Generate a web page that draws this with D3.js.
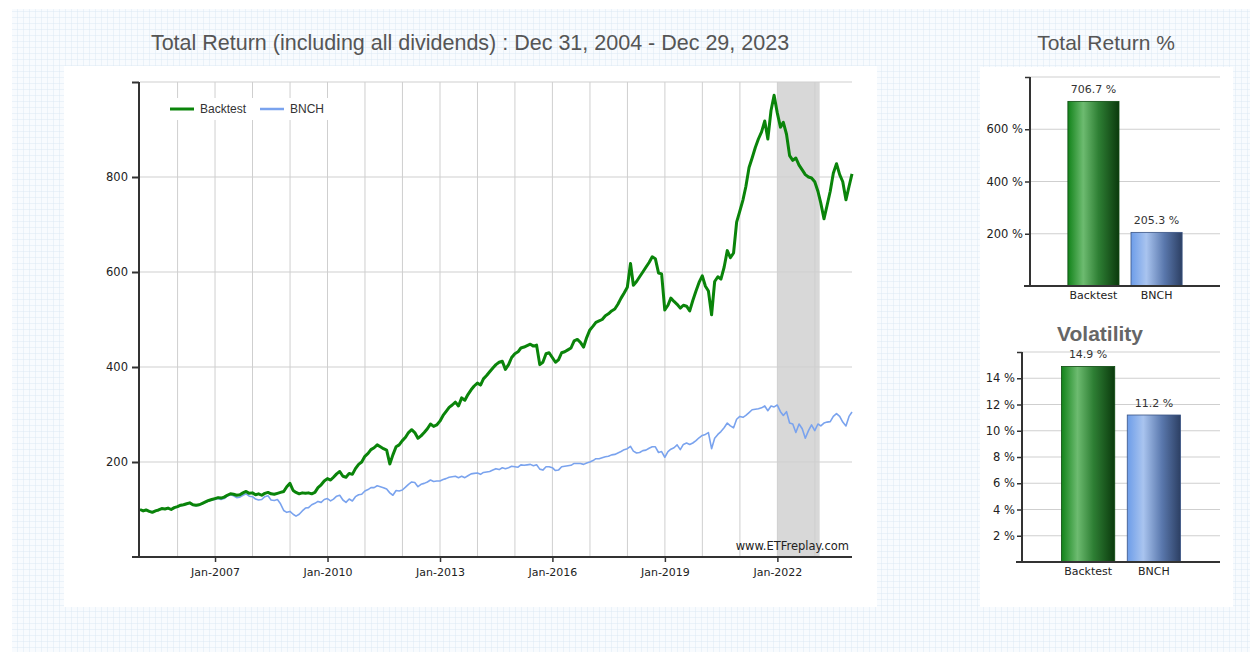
<!DOCTYPE html>
<html>
<head>
<meta charset="utf-8">
<script src="https://cdn.jsdelivr.net/npm/d3@7"></script>
<style>
  html, body { margin: 0; padding: 0; background: #fff; }
  svg { display: block; }
</style>
</head>
<body>
<div id="chart"></div>
<script>
// Total return chart, Backtest vs BNCH (month-end values, Dec 2004 = 100)
const titleMain = 'Total Return (including all dividends) : Dec 31, 2004 - Dec 29, 2023';
const seriesNames = ['Backtest', 'BNCH'];

const backtest = [100,
  97, 99, 96, 94, 97, 99, 102, 101, 103, 100, 104, 106,          // 2005
  109, 110, 112, 114, 110, 109, 110, 113, 116, 119, 121, 123,    // 2006
  125, 124, 126, 130, 133, 132, 130, 131, 135, 138, 134, 135,    // 2007
  131, 133, 130, 134, 136, 133, 132, 134, 136, 138, 148, 155,    // 2008
  140, 136, 133, 135, 134, 135, 133, 136, 146, 152, 160, 165,    // 2009
  162, 168, 175, 180, 170, 168, 176, 174, 186, 195, 200, 212,    // 2010
  218, 226, 230, 236, 232, 228, 225, 196, 215, 232, 236, 245,    // 2011
  252, 262, 268, 262, 250, 255, 262, 270, 280, 275, 278, 286,    // 2012
  298, 306, 315, 320, 326, 318, 335, 330, 342, 352, 360, 366,    // 2013
  362, 375, 382, 390, 398, 405, 410, 412, 395, 405, 420, 428,    // 2014
  432, 440, 442, 445, 448, 444, 446, 405, 410, 428, 430, 420,    // 2015
  410, 415, 430, 432, 436, 440, 455, 458, 452, 442, 462, 478,    // 2016
  486, 494, 497, 500, 508, 512, 518, 522, 532, 545, 556, 568,    // 2017
  618, 572, 580, 590, 600, 610, 620, 632, 628, 598, 596, 520,    // 2018
  530, 545, 538, 532, 524, 530, 528, 518, 540, 560, 578, 592,    // 2019
  570, 560, 510, 580, 590, 585, 610, 645, 630, 640, 705, 728,    // 2020
  752, 780, 820, 840, 862, 880, 895, 918, 880, 940, 972, 935,    // 2021
  905, 915, 890, 845, 835, 840, 825, 815, 805, 800, 798, 790,    // 2022
  770, 745, 712, 740, 770, 808, 828, 805, 790, 752, 780, 806.7   // 2023
];

const bnch = [100,
  97, 99, 97, 95, 98, 99, 102, 101, 102, 100, 104, 105,          // 2005
  108, 109, 111, 113, 109, 108, 109, 112, 115, 118, 120, 121,    // 2006
  123, 121, 123, 128, 131, 129, 125, 126, 130, 133, 128, 127,    // 2007
  122, 120, 121, 127, 129, 120, 119, 121, 112, 98, 94, 96,       // 2008
  90, 86, 90, 97, 103, 104, 110, 113, 117, 115, 121, 123,        // 2009
  118, 122, 128, 130, 120, 115, 122, 118, 127, 131, 132, 139,    // 2010
  142, 146, 146, 150, 148, 146, 143, 135, 130, 140, 139, 141,    // 2011
  147, 153, 158, 157, 148, 153, 155, 158, 162, 159, 160, 160,    // 2012
  163, 165, 168, 169, 170, 167, 170, 167, 171, 175, 176, 177,    // 2013
  174, 178, 179, 180, 183, 186, 184, 188, 186, 188, 191, 190,    // 2014
  189, 194, 193, 194, 195, 192, 194, 185, 183, 190, 190, 188,    // 2015
  182, 183, 190, 191, 192, 193, 197, 197, 197, 195, 198, 200,    // 2016
  203, 207, 207, 209, 211, 212, 215, 216, 219, 222, 226, 228,    // 2017
  233, 223, 219, 220, 224, 225, 229, 232, 232, 220, 222, 210,    // 2018
  222, 227, 230, 236, 226, 237, 240, 237, 240, 245, 251, 256,    // 2019
  258, 262, 228, 250, 258, 264, 272, 282, 276, 272, 290, 296,    // 2020
  294, 298, 304, 310, 311, 312, 314, 318, 308, 318, 316, 320,    // 2021
  306, 298, 306, 282, 280, 262, 280, 270, 250, 266, 278, 266,    // 2022
  280, 276, 282, 284, 285, 296, 302, 296, 284, 276, 296, 305.3   // 2023
];

const yTicksMain = [200, 400, 600, 800];
const xLabelYears = [2007, 2010, 2013, 2016, 2019, 2022];
const shadeRange = [new Date(2022, 0, 3), new Date(2023, 1, 17)];

const totalReturn = [706.7, 205.3];
const trTicks = [200, 400, 600];
const volatility = [14.9, 11.2];
const volTicks = [2, 4, 6, 8, 10, 12, 14];

const W = 1254, H = 656;
const tickFont = '"DejaVu Sans", Verdana, sans-serif';
const arial = '"Liberation Sans", Arial, sans-serif';

const svg = d3.select('#chart').append('svg')
  .attr('width', W).attr('height', H);

// graph paper background
const defs = svg.append('defs');
const pat = defs.append('pattern')
  .attr('id', 'paper').attr('width', 6).attr('height', 6)
  .attr('patternUnits', 'userSpaceOnUse');
pat.append('rect').attr('width', 6).attr('height', 6).attr('fill', '#f8fbfe');
pat.append('path').attr('d', 'M6 0 V6 M0 6 H6')
  .attr('stroke', '#dde9f4').attr('stroke-width', 1).attr('fill', 'none');

// bar gradients
function barGradient(id, stops) {
  const g = defs.append('linearGradient').attr('id', id)
    .attr('x1', '0%').attr('x2', '100%').attr('y1', '0%').attr('y2', '0%');
  stops.forEach(s => g.append('stop').attr('offset', s[0]).attr('stop-color', s[1]));
}
barGradient('gGreen', [['0%', '#12831a'], ['30%', '#6dbb70'], ['60%', '#2e7f34'], ['100%', '#0b3a0d']]);
barGradient('gBlue', [['0%', '#6d9de9'], ['30%', '#a9c4ef'], ['65%', '#5a78ad'], ['100%', '#2c3f63']]);

svg.append('rect').attr('x', 12).attr('y', 9).attr('width', 1238).attr('height', 643)
  .attr('fill', 'url(#paper)');

// white panels
svg.append('rect').attr('x', 64).attr('y', 66).attr('width', 813).attr('height', 541).attr('fill', '#fff');
svg.append('rect').attr('x', 980).attr('y', 67).attr('width', 253).attr('height', 540).attr('fill', '#fff');

// titles
svg.append('text').attr('x', 470).attr('y', 50).attr('text-anchor', 'middle')
  .attr('font-family', arial).attr('font-size', 21.5).attr('fill', '#555')
  .text(titleMain);
svg.append('text').attr('x', 1106).attr('y', 50).attr('text-anchor', 'middle')
  .attr('font-family', arial).attr('font-size', 21).attr('fill', '#555')
  .text('Total Return %');

// ---------- main line chart ----------
const dates = backtest.map((d, i) => new Date(2005, i, 0));
dates[dates.length - 1] = new Date(2023, 11, 29);

const x = d3.scaleTime().domain([new Date(2004, 11, 31), new Date(2023, 11, 29)]).range([140, 852]);
const y = d3.scaleLinear().domain([0, 1000]).range([557, 82]);

const main = svg.append('g');

// shaded period
main.append('rect')
  .attr('x', x(shadeRange[0])).attr('y', y(1000))
  .attr('width', x(shadeRange[1]) - x(shadeRange[0]))
  .attr('height', y(0) - y(1000))
  .attr('fill', '#d8d8d8');

// grid
const yearTicks = d3.timeYear.range(new Date(2006, 0, 1), new Date(2024, 0, 1));
main.selectAll('line.vgrid').data(yearTicks).enter().append('line')
  .attr('class', 'vgrid')
  .attr('x1', d => x(d)).attr('x2', d => x(d))
  .attr('y1', y(1000)).attr('y2', y(0))
  .attr('stroke', '#cfcfcf').attr('stroke-width', 1);
main.selectAll('line.hgrid').data(yTicksMain.concat([1000])).enter().append('line')
  .attr('class', 'hgrid')
  .attr('x1', 140).attr('x2', 852)
  .attr('y1', d => y(d)).attr('y2', d => y(d))
  .attr('stroke', '#cfcfcf').attr('stroke-width', 1);

// legend box (covers gridlines behind legend)
main.append('rect').attr('x', 162).attr('y', 98).attr('width', 180).attr('height', 22).attr('fill', '#fff');

// lines
const line = d3.line().x((d, i) => x(dates[i])).y(d => y(d));
main.append('path').datum(bnch)
  .attr('d', line).attr('fill', 'none')
  .attr('stroke', '#7aa3ee').attr('stroke-width', 1.6).attr('stroke-linejoin', 'round');
main.append('path').datum(backtest)
  .attr('d', line).attr('fill', 'none')
  .attr('stroke', '#0a840a').attr('stroke-width', 3).attr('stroke-linejoin', 'round');

// axes
const yAxis = d3.axisLeft(y).tickValues(yTicksMain.concat([1000]))
  .tickSize(7).tickPadding(4).tickFormat(d => d === 1000 ? '' : d);
const gy = main.append('g').attr('transform', 'translate(139,0)').call(yAxis);
gy.select('.domain').attr('stroke', '#333').attr('stroke-width', 2).attr('d', 'M0,82V557');
gy.selectAll('.tick line').attr('stroke', '#333').attr('stroke-width', 2);
gy.selectAll('text').attr('font-family', tickFont).attr('font-size', 11.5).attr('fill', '#222');

const xAxis = d3.axisBottom(x)
  .tickValues(xLabelYears.map(yr => new Date(yr, 0, 1)))
  .tickSize(5).tickPadding(6).tickFormat(d3.timeFormat('Jan-%Y'));
const gx = main.append('g').attr('transform', 'translate(0,557)').call(xAxis);
gx.select('.domain').attr('stroke', '#333').attr('stroke-width', 2).attr('d', 'M132,0H852');
gx.selectAll('.tick line').attr('stroke', '#333').attr('stroke-width', 1.5);
gx.selectAll('text').attr('font-family', tickFont).attr('font-size', 11).attr('fill', '#222');

// legend
const legend = main.append('g');
const legendItems = [
  { name: seriesNames[0], color: '#0a840a', w: 3, x: 170 },
  { name: seriesNames[1], color: '#7aa3ee', w: 2.5, x: 260 }
];
legendItems.forEach(it => {
  legend.append('line').attr('x1', it.x).attr('x2', it.x + 24).attr('y1', 109).attr('y2', 109)
    .attr('stroke', it.color).attr('stroke-width', it.w);
  legend.append('text').attr('x', it.x + 30).attr('y', 113)
    .attr('font-family', arial).attr('font-size', 12).attr('fill', '#333').text(it.name);
});

// watermark
main.append('text').attr('x', 849).attr('y', 550).attr('text-anchor', 'end')
  .attr('font-family', tickFont).attr('font-size', 11.5).attr('fill', '#222')
  .text('www.ETFreplay.com');

// ---------- bar charts ----------
function barChart(opts) {
  const g = svg.append('g');
  const bx = d3.scaleBand().domain(seriesNames).range([opts.left, opts.right])
    .paddingInner(0.19).paddingOuter(0.6);
  const by = d3.scaleLinear().domain([0, opts.max]).range([opts.bottom, opts.top]);

  g.selectAll('line.grid').data(opts.ticks.concat([opts.max])).enter().append('line')
    .attr('x1', opts.left).attr('x2', opts.right)
    .attr('y1', d => by(d)).attr('y2', d => by(d))
    .attr('stroke', '#cfcfcf').attr('stroke-width', 1);

  g.selectAll('rect.bar').data(opts.values).enter().append('rect')
    .attr('x', (d, i) => bx(seriesNames[i]))
    .attr('y', d => by(d))
    .attr('width', bx.bandwidth())
    .attr('height', d => by(0) - by(d))
    .attr('fill', (d, i) => i === 0 ? 'url(#gGreen)' : 'url(#gBlue)')
    .attr('stroke', (d, i) => i === 0 ? '#0d4a10' : '#3a5484')
    .attr('stroke-width', 0.8);

  g.selectAll('text.val').data(opts.values).enter().append('text')
    .attr('x', (d, i) => bx(seriesNames[i]) + bx.bandwidth() / 2)
    .attr('y', d => by(d) - 8)
    .attr('text-anchor', 'middle')
    .attr('font-family', tickFont).attr('font-size', 11).attr('fill', '#333')
    .text(d => d.toFixed(1) + ' %');

  const ay = d3.axisLeft(by).tickValues(opts.ticks.concat([opts.max])).tickSize(5).tickPadding(2)
    .tickFormat(d => d === opts.max ? '' : d + ' %');
  const gy = g.append('g').attr('transform', `translate(${opts.left},0)`).call(ay);
  gy.select('.domain').attr('stroke', '#333').attr('stroke-width', 2)
    .attr('d', `M0,${opts.top}V${opts.bottom}`);
  gy.selectAll('.tick line').attr('stroke', '#333').attr('stroke-width', 1.5);
  gy.selectAll('text').attr('font-family', tickFont).attr('font-size', 11.5).attr('fill', '#222');

  const ax = d3.axisBottom(bx).tickSize(0).tickPadding(5);
  const gx = g.append('g').attr('transform', `translate(0,${opts.bottom})`).call(ax);
  gx.select('.domain').attr('stroke', '#333').attr('stroke-width', 2)
    .attr('d', `M${opts.left - 6},0H${opts.right}`);
  gx.selectAll('text').attr('font-family', tickFont).attr('font-size', 11).attr('fill', '#222');
}

barChart({ values: totalReturn, ticks: trTicks, max: 800, left: 1030, right: 1220, top: 77, bottom: 286 });

svg.append('text').attr('x', 1100).attr('y', 341).attr('text-anchor', 'middle')
  .attr('font-family', arial).attr('font-size', 21).attr('font-weight', 'bold').attr('fill', '#666')
  .text('Volatility');

barChart({ values: volatility, ticks: volTicks, max: 16, left: 1022, right: 1220, top: 352, bottom: 562 });
</script>
</body>
</html>
